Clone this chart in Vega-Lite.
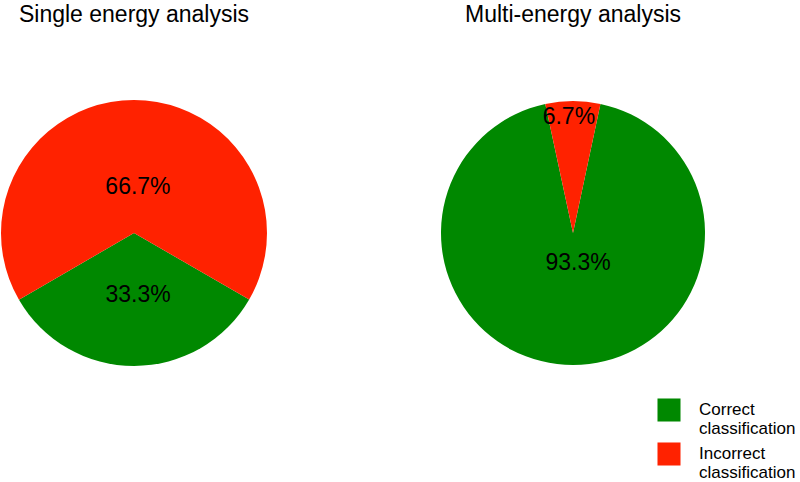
{
  "$schema": "https://vega.github.io/schema/vega-lite/v6.json",
  "padding": {"top": 4, "left": 0, "right": 0, "bottom": 0},
  "background": "white",
  "spacing": 171,
  "config": {
    "view": {"stroke": null},
    "font": "Liberation Sans",
    "title": {"fontSize": 23, "fontWeight": "normal", "color": "#000000", "font": "Liberation Sans", "anchor": "middle", "offset": 4},
    "legend": {
      "orient": "none", "legendX": 657, "legendY": 367, "title": null,
      "symbolType": "square", "symbolSize": 530, "symbolStrokeWidth": 0, "symbolOpacity": 1,
      "labelFontSize": 17, "labelFont": "Liberation Sans", "labelColor": "#000000", "labelLineHeight": 19,
      "labelOffset": 18, "rowPadding": 5, "labelLimit": 300, "labelBaseline": "middle"
    }
  },
  "data": {"values": [
    {"analysis": "Single", "category": "Correct classification", "value": 33.3},
    {"analysis": "Single", "category": "Incorrect classification", "value": 66.7},
    {"analysis": "Multi", "category": "Correct classification", "value": 93.3},
    {"analysis": "Multi", "category": "Incorrect classification", "value": 6.7}
  ]},
  "transform": [{"calculate": "format(datum.value, '.1f') + '%'", "as": "label"}],
  "hconcat": [
    {
      "title": "Single energy analysis",
      "width": 268, "height": 404,
      "transform": [{"filter": "datum.analysis == 'Single'"}],
      "encoding": {
        "theta": {"field": "value", "type": "quantitative", "stack": true, "scale": {"range": [2.0944, 8.3776]}},
        "order": {"field": "category", "sort": "ascending"},
        "color": {"field": "category", "type": "nominal", "scale": {"domain": ["Correct classification", "Incorrect classification"], "range": ["#008800", "#ff2200"]}, "legend": {"labelExpr": "split(datum.label, ' ')"}}
      },
      "layer": [
        {"mark": {"type": "arc", "radius": 133}},
        {"mark": {"type": "text", "radius": 46, "fontSize": 23, "color": "#000000", "dx": 4},
         "encoding": {"text": {"field": "label"}, "color": {"value": "#000000"}, "opacity": {"condition": {"test": "datum.category == 'Incorrect classification'", "value": 1}, "value": 0}}},
        {"mark": {"type": "text", "radius": 62, "fontSize": 23, "color": "#000000", "dx": 4},
         "encoding": {"text": {"field": "label"}, "color": {"value": "#000000"}, "opacity": {"condition": {"test": "datum.category == 'Correct classification'", "value": 1}, "value": 0}}}
      ]
    },
    {
      "title": "Multi-energy analysis",
      "width": 268, "height": 404,
      "transform": [{"filter": "datum.analysis == 'Multi'"}],
      "encoding": {
        "theta": {"field": "value", "type": "quantitative", "stack": true, "scale": {"range": [0.2094, 6.4926]}},
        "order": {"field": "category", "sort": "ascending"},
        "color": {"field": "category", "type": "nominal", "scale": {"domain": ["Correct classification", "Incorrect classification"], "range": ["#008800", "#ff2200"]}, "legend": {"labelExpr": "split(datum.label, ' ')"}}
      },
      "layer": [
        {"mark": {"type": "arc", "radius": 132}},
        {"mark": {"type": "text", "radius": 116, "fontSize": 23, "color": "#000000", "dx": -4},
         "encoding": {"text": {"field": "label"}, "color": {"value": "#000000"}, "opacity": {"condition": {"test": "datum.category == 'Incorrect classification'", "value": 1}, "value": 0}}},
        {"mark": {"type": "text", "radius": 30, "fontSize": 23, "color": "#000000", "dx": 5},
         "encoding": {"text": {"field": "label"}, "color": {"value": "#000000"}, "opacity": {"condition": {"test": "datum.category == 'Correct classification'", "value": 1}, "value": 0}}}
      ]
    }
  ]
}
